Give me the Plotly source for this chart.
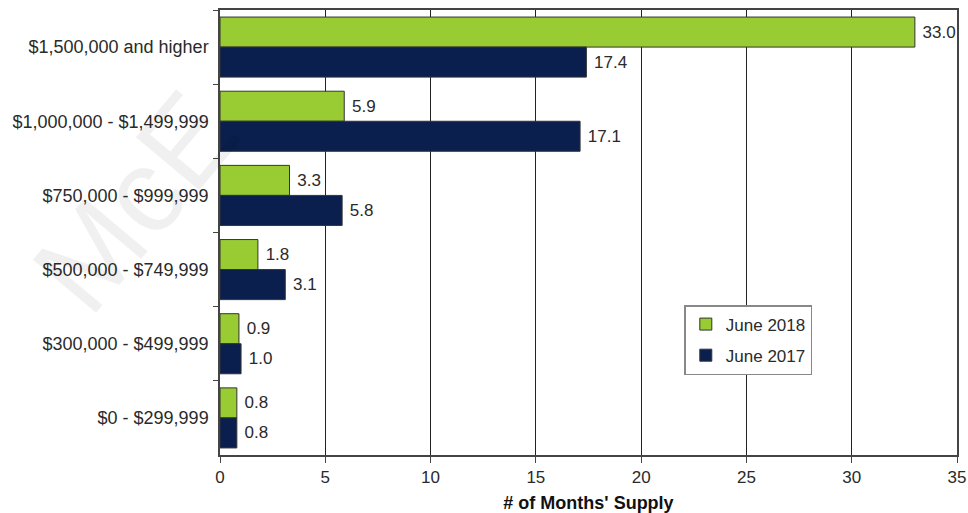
import plotly.graph_objects as go

categories = ["$1,500,000 and higher", "$1,000,000 - $1,499,999", "$750,000 - $999,999",
              "$500,000 - $749,999", "$300,000 - $499,999", "$0 - $299,999"]
june_2018 = [33.0, 5.9, 3.3, 1.8, 0.9, 0.8]
june_2017 = [17.4, 17.1, 5.8, 3.1, 1.0, 0.8]
x_ticks = [0, 5, 10, 15, 20, 25, 30, 35]

FONT = "Liberation Sans, Arial, sans-serif"
fig = go.Figure()
fig.add_trace(go.Bar(y=categories, x=june_2018, orientation="h", name="June 2018",
                     legendgroup="a",
                     marker=dict(color="#99CC33", line=dict(color="#333333", width=1)),
                     text=["\u00a0" + f"{v:.1f}" for v in june_2018], textposition="outside",
                     textfont=dict(size=17, color="#2a2a2a"), cliponaxis=False))
fig.add_trace(go.Bar(y=categories, x=june_2017, orientation="h", name="June 2017",
                     legendgroup="b",
                     marker=dict(color="#0A1F4E", line=dict(color="#333333", width=1)),
                     text=["\u00a0" + f"{v:.1f}" for v in june_2017], textposition="outside",
                     textfont=dict(size=17, color="#2a2a2a"), cliponaxis=False))

fig.update_layout(
    width=968, height=513,
    margin=dict(l=220, r=11, t=10, b=58),
    paper_bgcolor="white", plot_bgcolor="white",
    barmode="group", bargap=0.19, bargroupgap=0.0,
    font=dict(family=FONT, size=17, color="#2a2a2a"),
    xaxis=dict(range=[0, 35], tickvals=x_ticks, showgrid=True, gridcolor="#222222", gridwidth=1,
               showline=True, linecolor="#444444", linewidth=1.5, mirror=True,
               ticks="outside", ticklen=6, tickcolor="#444444", zeroline=False,
               automargin=False, tickfont=dict(size=17),
               title=dict(text="<b># of Months' Supply</b>", font=dict(size=18, color="#111111"),
                          standoff=12)),
    yaxis=dict(categoryorder="array", categoryarray=categories, autorange="reversed",
               showline=True, linecolor="#444444", linewidth=1.5, mirror=True,
               ticks="outside", ticklen=5, tickson="boundaries", tickcolor="#444444",
               showgrid=False, automargin=False, tickfont=dict(size=18),
               ticklabelstandoff=6),
    legend=dict(x=0.63, y=0.337, xanchor="left", yanchor="top",
                bgcolor="white", bordercolor="#888888", borderwidth=1.5,
                font=dict(size=17), tracegroupgap=6, itemwidth=30),
    showlegend=True,
)
fig.add_annotation(text="McE", x=-0.115, y=0.57, xref="paper", yref="paper",
                   xanchor="center", yanchor="middle",
                   showarrow=False, textangle=-50,
                   font=dict(size=120, color="rgba(0,0,0,0.06)", family=FONT))
fig.write_html("out.html")
